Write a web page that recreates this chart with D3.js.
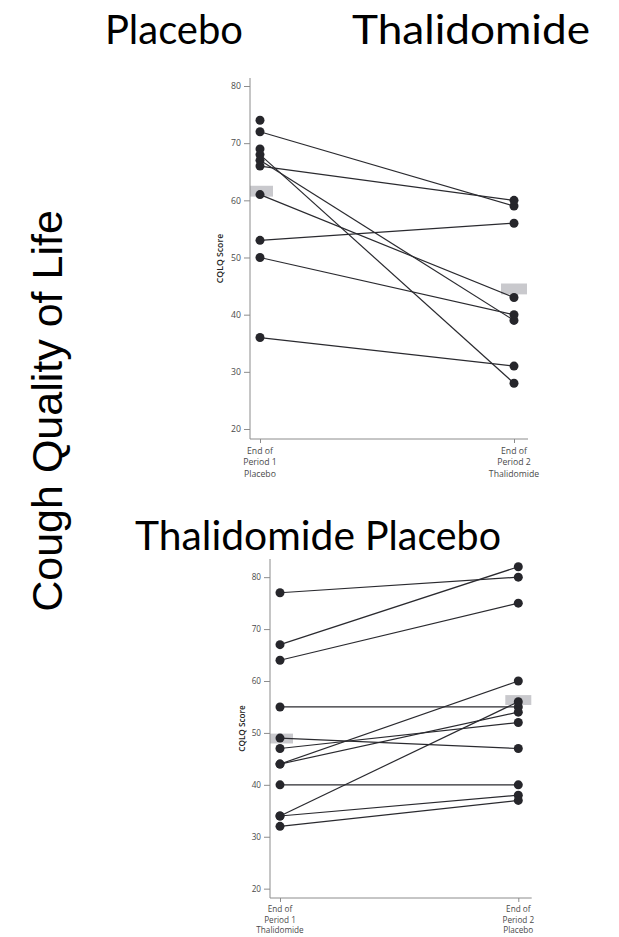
<!DOCTYPE html>
<html><head><meta charset="utf-8">
<script src="https://cdn.jsdelivr.net/npm/d3@7"></script>
<style>html,body{margin:0;padding:0;background:#fff;}svg{display:block;}</style>
</head><body>
<script>
// ---- data ----
const yTicks = [20, 30, 40, 50, 60, 70, 80];
const topCategories = ["End of|Period 1|Placebo", "End of|Period 2|Thalidomide"];
const topPeriod1 = [74, 72, 69, 68, 67, 66, 61, 53, 50, 36];
const topPeriod2 = [null, 59, null, 28, 39, 60, 43, 56, 40, 31];
const bottomCategories = ["End of|Period 1|Thalidomide", "End of|Period 2|Placebo"];
const bottomPeriod1 = [77, 67, 64, 55, 49, 47, 44, 44, 40, 34, 34, 32];
const bottomPeriod2 = [80, 82, 75, 55, 47, 52, 54, 60, 40, 56, 38, 37];
const topTitles = ["Placebo", "Thalidomide"];
const bottomTitles = ["Thalidomide", "Placebo"];
const sideTitle = "Cough Quality of Life";
const yLabel = "CQLQ Score";

const W = 619, H = 937;
const svg = d3.select("body").append("svg").attr("width", W).attr("height", H);

function panel(cfg, cats, p1, p2) {
  const g = svg.append("g");
  const y = d3.scaleLinear().domain(cfg.yDomain).range([cfg.bottom, cfg.top]);
  const x = d3.scalePoint().domain(cats).range([cfg.x1, cfg.x2]);
  const tickFont = "'Open Sans', sans-serif";

  // mean bars
  const m1 = d3.mean(p1.filter(v => v != null));
  const m2 = d3.mean(p2.filter(v => v != null));
  [[cats[0], m1], [cats[1], m2]].forEach(([c, m]) => {
    const cx = x(c);
    const left = Math.max(cfg.axisX, cx - 13);
    g.append("rect")
      .attr("x", left).attr("width", cx + 13 - left)
      .attr("y", y(m + 0.95)).attr("height", y(m - 0.95) - y(m + 0.95))
      .attr("fill", "#c9c9cd");
  });

  // paired lines
  p1.forEach((v, i) => {
    if (v == null || p2[i] == null) return;
    g.append("line")
      .attr("x1", x(cats[0])).attr("y1", y(v))
      .attr("x2", x(cats[1])).attr("y2", y(p2[i]))
      .attr("stroke", "#2a2a2f").attr("stroke-width", 1.2);
  });

  // dots
  [[cats[0], p1], [cats[1], p2]].forEach(([c, arr]) => {
    arr.forEach(v => {
      if (v == null) return;
      g.append("circle").attr("cx", x(c)).attr("cy", y(v)).attr("r", 4.5)
        .attr("fill", "#26262b");
    });
  });

  // y axis
  const ya = g.append("g").attr("transform", `translate(${cfg.axisX},0)`)
    .call(d3.axisLeft(y).tickValues(yTicks).tickSize(6).tickPadding(3).tickSizeOuter(0));
  ya.select(".domain").remove();
  ya.selectAll(".tick line").attr("stroke", "#8c8c8c");
  ya.selectAll(".tick text").attr("fill", "#4a4a4a").attr("font-size", cfg.fs)
    .attr("font-family", tickFont);
  g.append("line").attr("x1", cfg.axisX).attr("x2", cfg.axisX)
    .attr("y1", cfg.top).attr("y2", cfg.bottom).attr("stroke", "#8c8c8c");

  // x axis
  const xa = g.append("g").attr("transform", `translate(0,${cfg.bottom})`)
    .call(d3.axisBottom(x).tickSize(4).tickSizeOuter(0).tickFormat(() => ""));
  xa.select(".domain").remove();
  xa.selectAll(".tick line").attr("stroke", "#8c8c8c");
  g.append("line").attr("x1", cfg.axisX).attr("x2", cfg.right)
    .attr("y1", cfg.bottom).attr("y2", cfg.bottom).attr("stroke", "#8c8c8c");
  cats.forEach(c => {
    const t = g.append("text").attr("x", x(c)).attr("y", cfg.bottom + cfg.lab0)
      .attr("text-anchor", "middle").attr("fill", "#4a4a4a")
      .attr("font-size", cfg.fs).attr("font-family", tickFont);
    c.split("|").forEach((s, k) => {
      t.append("tspan").attr("x", x(c)).attr("dy", k === 0 ? 0 : cfg.lineH).text(s);
    });
  });

  // y label
  const ly = y((cfg.yDomain[0] + cfg.yDomain[1]) / 2);
  g.append("text").attr("transform", `translate(${cfg.labX},${ly}) rotate(-90)`)
    .attr("text-anchor", "middle").attr("font-size", cfg.fs)
    .attr("font-family", tickFont).attr("font-weight", 600).attr("fill", "#222")
    .text(yLabel);
}

panel({yDomain: [18.25, 81.4], bottom: 439, top: 78, x1: 260, x2: 514, axisX: 250, right: 528,
       fs: 8.7, lab0: 15, lineH: 11.3, labX: 223}, topCategories, topPeriod1, topPeriod2);
panel({yDomain: [18.2, 83.5], bottom: 898, top: 559, x1: 280, x2: 518.3, axisX: 270, right: 531.7,
       fs: 8.2, lab0: 14, lineH: 10.5, labX: 245}, bottomCategories, bottomPeriod1, bottomPeriod2);

// big titles
const titleFont = "Lato, 'Open Sans', sans-serif";
const tt = [[topTitles[0], 105, 44, 138], [topTitles[1], 352, 44, 238],
            [bottomTitles[0], 135, 550, 220], [bottomTitles[1], 365, 550, 136]];
tt.forEach(([s, xx, yy, len]) => {
  svg.append("text").attr("x", xx).attr("y", yy).attr("font-size", 41)
    .attr("font-family", titleFont).attr("font-weight", 400).attr("fill", "#000")
    .attr("textLength", len).attr("lengthAdjust", "spacingAndGlyphs").text(s);
});
svg.append("text").attr("transform", "translate(62,411) rotate(-90)")
  .attr("text-anchor", "middle").attr("font-size", 43)
  .attr("font-family", "'Liberation Sans', Arial, sans-serif").attr("fill", "#000")
  .text(sideTitle);
</script>
</body></html>
